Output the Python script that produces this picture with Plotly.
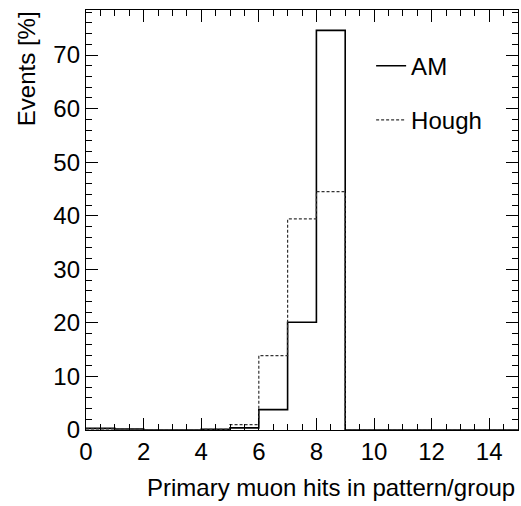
import plotly.graph_objects as go

# bin edges of the histogram (hits 0..15)
bin_edges = list(range(0, 16))

# percentage of events per bin
am_values = [0.3, 0.2, 0.0, 0.0, 0.15, 0.4, 3.8, 20.1, 74.6, 0.0, 0.0, 0.0, 0.0, 0.0, 0.0]
hough_values = [0.2, 0.15, 0.0, 0.0, 0.1, 1.0, 13.9, 39.4, 44.5, 0.0, 0.0, 0.0, 0.0, 0.0, 0.0]

x_ticks = [0, 2, 4, 6, 8, 10, 12, 14]
y_ticks = [0, 10, 20, 30, 40, 50, 60, 70]

font_name = "Liberation Sans, Arial, Helvetica, sans-serif"
font_size = 24

fig = go.Figure()

# step histograms: repeat last value so the hv line reaches the last edge
fig.add_trace(go.Scatter(
    x=bin_edges, y=am_values + [am_values[-1]],
    mode="lines", line=dict(shape="hv", color="black", width=1.6),
    name="AM", legendgroup="am",
))
fig.add_trace(go.Scatter(
    x=bin_edges, y=hough_values + [hough_values[-1]],
    mode="lines", line=dict(shape="hv", color="#333333", width=1.2, dash="3px,2px"),
    name="Hough", legendgroup="hough",
))

axis_common = dict(
    showgrid=False, zeroline=False, showline=True, linecolor="black", linewidth=1.3,
    mirror="ticks", ticks="inside", tickcolor="black", tickwidth=1,
    tickfont=dict(size=font_size, color="black", family=font_name),
)

fig.update_xaxes(
    range=[0, 15], tickvals=x_ticks, ticklen=12,
    minor=dict(dtick=0.5, ticks="inside", ticklen=6, tickcolor="black", showgrid=False),
    **axis_common,
)
fig.update_yaxes(
    range=[0, 78.4], tickvals=y_ticks, ticklen=12,
    minor=dict(dtick=2, ticks="inside", ticklen=6, tickcolor="black", showgrid=False),
    **axis_common,
)

# ROOT style axis titles: x title right-aligned, y title top-aligned
fig.add_annotation(
    text="Primary muon hits in pattern/group", xref="paper", yref="paper",
    x=0.997, y=-0.1, xanchor="right", yanchor="top", showarrow=False,
    font=dict(size=font_size, color="black", family=font_name),
)
fig.add_annotation(
    text="Events [%]", xref="paper", yref="paper", textangle=-90,
    x=-0.175, y=1.003, xanchor="left", yanchor="top", showarrow=False,
    font=dict(size=font_size, color="black", family=font_name),
)

fig.update_layout(
    width=521, height=506,
    margin=dict(l=86, r=3, t=10, b=76),
    paper_bgcolor="white", plot_bgcolor="white",
    font=dict(family=font_name, color="black"),
    showlegend=True,
    legend=dict(
        x=0.66, y=0.92, xanchor="left", yanchor="top",
        bgcolor="rgba(0,0,0,0)", font=dict(size=font_size, color="black"),
        itemwidth=30, tracegroupgap=20, traceorder="grouped",
    ),
)

# drop the default page margin so the figure sits at the window corner
fig.write_html(
    "out.html",
    config={"displayModeBar": False},
    post_script="document.body.style.margin='0';",
)
